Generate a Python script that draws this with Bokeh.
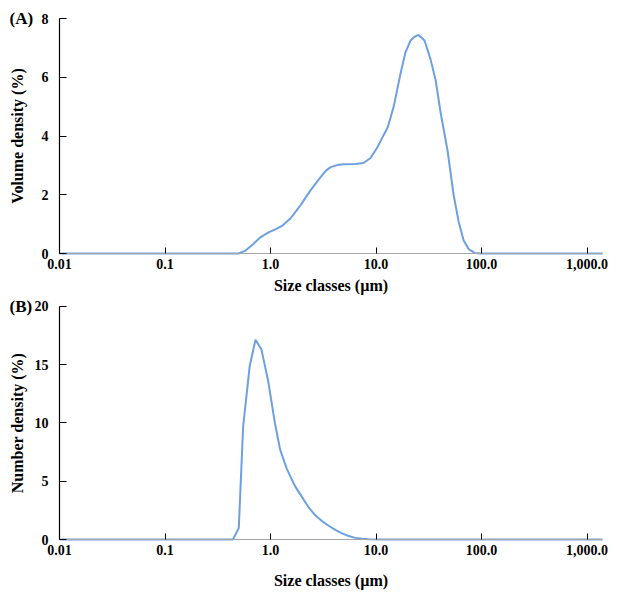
from bokeh.plotting import figure
from bokeh.models import Range1d, FixedTicker
from bokeh.core.properties import value
from bokeh.layouts import column
from bokeh.embed import file_html
from bokeh.resources import INLINE

# ---- data ----
x_ticks = [0.01, 0.1, 1, 10, 100, 1000]
x_tick_labels = ["0.01", "0.1", "1.0", "10.0", "100.0", "1,000.0"]

size_a = [0.01, 0.498, 0.58, 0.675, 0.80, 0.957, 1.11, 1.30, 1.55, 1.92, 2.39,
          2.98, 3.35, 3.71, 4.27, 4.92, 6.4, 7.6, 8.87, 10.3, 12.9, 14.7, 17.1,
          19.0, 21.2, 23.2, 25.3, 28.8, 32.9, 36.7, 40.9, 47.6, 54.3, 60.5, 67.5,
          75.3, 85.9, 97.8, 1400]
vol_a = [0, 0, 0.1, 0.3, 0.55, 0.72, 0.82, 0.95, 1.2, 1.64, 2.15,
         2.6, 2.82, 2.94, 3.01, 3.04, 3.05, 3.08, 3.25, 3.62, 4.3, 5.0, 6.14,
         6.85, 7.25, 7.38, 7.44, 7.25, 6.6, 5.9, 4.8, 3.5, 2.0, 1.1, 0.45,
         0.15, 0.02, 0, 0]
y_ticks_a = [0, 2, 4, 6, 8]

size_b = [0.01, 0.44, 0.50, 0.55, 0.635, 0.72, 0.82, 0.95, 1.10, 1.23, 1.42,
          1.70, 1.97, 2.30, 2.64, 3.05, 3.55, 4.15, 4.75, 5.5, 6.35, 7.4, 8.5,
          12.0, 1400]
num_b = [0, 0, 0.98, 9.7, 14.9, 17.15, 16.3, 13.6, 10.0, 7.76, 6.1,
         4.6, 3.7, 2.75, 2.1, 1.6, 1.18, 0.8, 0.53, 0.3, 0.14, 0.07, 0.03,
         0.01, 0]
y_ticks_b = [0, 5, 10, 15, 20]

FONT = "Liberation Serif"
LINE = "#6ca0e0"
X_MIN, X_MAX = 0.01, 1400          # axis extent
X_VIEW = (0.002759, 1819)          # view leaves room for the tag and the last tick label
TAG_X = 0.00336                    # where the panel tag "(A)"/"(B)" begins


def make_panel(xs, ys, ymax, yview, yticks, ylabel, tag, fh, ystand, xl_stand, xlab_stand):
    p = figure(x_axis_type="log", x_range=Range1d(*X_VIEW), y_range=Range1d(*yview),
               frame_width=614, frame_height=fh,
               min_border_left=0, min_border_right=0, min_border_top=0,
               min_border_bottom=0,
               output_backend="svg", toolbar_location=None)
    p.outline_line_color = None
    p.grid.visible = False
    p.line(xs, ys, line_color=LINE, line_width=2)
    p.text(x=[TAG_X], y=[ymax], text=[tag], text_font=value(FONT), text_font_style="bold",
           text_font_size="17px", text_align="left", text_baseline="middle", text_color="black")

    xa = p.xaxis[0]
    xa.fixed_location = 0
    xa.bounds = (X_MIN, X_MAX)
    xa.ticker = FixedTicker(ticks=x_ticks, minor_ticks=[])
    xa.major_label_overrides = {t: l for t, l in zip(x_ticks, x_tick_labels)}
    xa.axis_line_color = "#a6a6a6"
    xa.axis_line_width = 1
    xa.major_tick_in = 6
    xa.major_tick_out = 0
    xa.major_tick_line_color = "black"
    xa.minor_tick_line_color = None
    xa.major_label_standoff = xl_stand
    xa.axis_label = "Size classes (µm)"
    xa.axis_label_standoff = xlab_stand

    ya = p.yaxis[0]
    ya.fixed_location = X_MIN
    ya.bounds = (0, ymax)
    ya.ticker = FixedTicker(ticks=yticks, minor_ticks=[])
    ya.axis_line_color = "black"
    ya.axis_line_width = 1.2
    ya.major_tick_in = 7
    ya.major_tick_out = 0
    ya.major_tick_line_color = "black"
    ya.minor_tick_line_color = None
    ya.major_label_standoff = 11
    ya.axis_label = ylabel
    ya.axis_label_standoff = ystand

    for ax in (xa, ya):
        ax.major_label_text_font = FONT
        ax.major_label_text_font_style = "bold"
        ax.major_label_text_font_size = "14px"
        ax.major_label_text_color = "black"
        ax.axis_label_text_font = FONT
        ax.axis_label_text_font_style = "bold"
        ax.axis_label_text_font_size = "16px"
        ax.axis_label_text_color = "black"
    return p


pa = make_panel(size_a, vol_a, 8, (-1.4638, 8.6128), y_ticks_a, "Volume density (%)", "(A)",
                fh=296, ystand=13, xl_stand=5, xlab_stand=5)
pb = make_panel(size_b, num_b, 20, (-4.549, 20.858), y_ticks_b, "Number density (%)", "(B)",
                fh=296, ystand=6, xl_stand=5, xlab_stand=14)

layout = column(pa, pb)
open("out.html", "w").write(file_html(layout, INLINE))
